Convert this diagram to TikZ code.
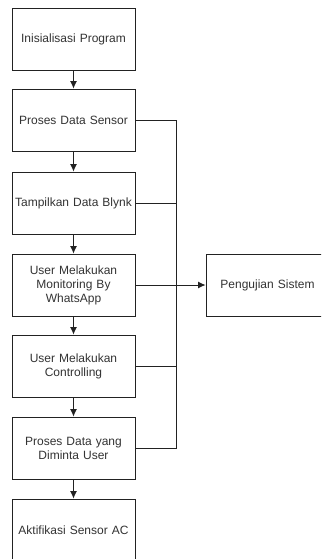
\documentclass[tikz,border=0pt]{standalone}
\usepackage{fontspec}
\setmainfont{Liberation Sans}
\usetikzlibrary{arrows.meta}
\definecolor{txt}{HTML}{333333}
\definecolor{ln}{HTML}{222222}
\begin{document}
\begin{tikzpicture}[x=1pt,y=-1pt,
  stepbox/.style={draw=ln, line width=0.9pt, fill=white, rectangle,
    minimum width=123pt, minimum height=62pt, inner sep=2pt,
    align=center, text width=118pt, text=txt,
    font=\fontsize{12pt}{14pt}\selectfont},
  link/.style={draw=ln, line width=0.9pt},
  flow/.style={link, -{Latex[length=7.5pt,width=7pt]}}]
\useasboundingbox (0,0) rectangle (321,559);
\clip (0,0) rectangle (321,559);
\fill[white] (0,0) rectangle (321,559);

% main column of steps
\node[stepbox] (b1) at (73.5,39)  {Inisialisasi Program};
\node[stepbox] (b2) at (73.5,120) {Proses Data Sensor};
\node[stepbox] (b3) at (73.5,203) {Tampilkan Data Blynk};
\node[stepbox] (b4) at (73.5,285) {User Melakukan\\Monitoring By\\WhatsApp};
\node[stepbox] (b5) at (73.5,366) {User Melakukan\\Controlling};
\node[stepbox] (b6) at (73.5,448) {Proses Data yang\\Diminta User};
\node[stepbox] (b7) at (73.5,530) {Aktifikasi Sensor AC};

% testing box on the right
\node[stepbox] (test) at (267.5,285) {Pengujian Sistem};

% downward flow
\draw[flow] (b1) -- (b2);
\draw[flow] (b2) -- (b3);
\draw[flow] (b3) -- (b4);
\draw[flow] (b4) -- (b5);
\draw[flow] (b5) -- (b6);
\draw[flow] (b6) -- (b7);

% collecting bus on the right
\coordinate (j2) at (176,120);
\coordinate (j3) at (176,203);
\coordinate (j5) at (176,366);
\coordinate (j6) at (176,448);
\draw[link] (b2.east) -- (j2) -- (j6) -- (b6.east);
\draw[link] (b3.east) -- (j3);
\draw[link] (b5.east) -- (j5);
\draw[flow] (b4.east) -- (test.west);
\end{tikzpicture}
\end{document}
